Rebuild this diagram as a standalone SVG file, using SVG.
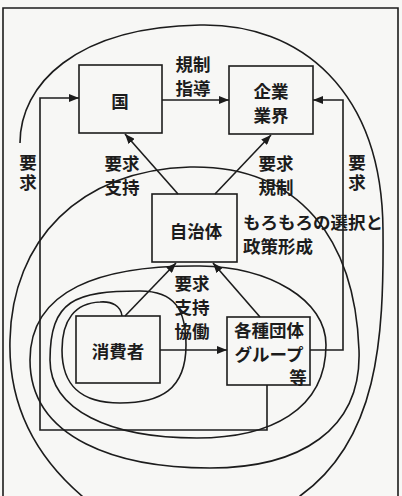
<svg xmlns="http://www.w3.org/2000/svg" width="402" height="496" viewBox="0 0 402 496">
<style>
.ln{fill:none;stroke:#1c1c1c;stroke-width:1.6}
.bx{fill:none;stroke:#1c1c1c;stroke-width:1.6}
.t{font-family:"Noto Sans CJK JP","Noto Sans CJK SC",sans-serif;font-size:17.5px;font-weight:700;fill:#1c1c1c;dominant-baseline:central}
.c{text-anchor:middle}
.v{writing-mode:vertical-rl;text-anchor:middle;letter-spacing:2.5px}
</style>
<defs>
<marker id="ah" markerUnits="userSpaceOnUse" markerWidth="11" markerHeight="8" refX="10" refY="4" orient="auto">
<path d="M0,0 L10,4 L0,8 z" fill="#1c1c1c"/>
</marker>
</defs>
<rect x="0" y="0" width="402" height="496" fill="#f7f7f5"/>
<path class="ln" d="M3,496 V8 H398 V496"/>
<g id="spiral">
<path class="ln" d="M20,143 C20,85 75,27 200,25 C300,23 382,90 383,230 C384,340 378,440 300,496 C260,530 110,530 82,496 C40,460 8,410 10,340 C12,240 80,170 190,167 C300,165 355,240 359,350 C362,430 300,468 210,468 C120,468 30,440 30,360 C30,290 100,265 200,266 C270,267 326,300 326,345 C326,410 270,438 197,438 C110,438 50,410 50,360 C50,300 75,291 140,291 C175,291 186,310 186,345 C186,390 160,403 120,403 C80,403 62,385 62,350 C62,320 75,303 100,302 C112,301 121,306 122,316"/>
</g>
<g id="connectors">
<path class="ln" d="M162,100 H229" marker-end="url(#ah)"/>
<path class="ln" d="M178,194 L125,134" marker-end="url(#ah)"/>
<path class="ln" d="M215,194 L271,135" marker-end="url(#ah)"/>
<path class="ln" d="M125,316 L176,263" marker-end="url(#ah)"/>
<path class="ln" d="M260,317 L213,263" marker-end="url(#ah)"/>
<path class="ln" d="M160,350 H227" marker-end="url(#ah)"/>
<path class="ln" d="M267,385 V430 H40 V98 H79" marker-end="url(#ah)"/>
<path class="ln" d="M310,350 H343 V100 H313" marker-end="url(#ah)"/>
</g>
<g id="labels">
<text class="t c" x="193" y="63">規制<tspan x="193" dy="24">指導</tspan></text>
<text class="t c" x="122" y="162">要求<tspan x="122" dy="24">支持</tspan></text>
<text class="t c" x="276" y="162">要求<tspan x="276" dy="24">規制</tspan></text>
<text class="t v" x="28" y="174">要求</text>
<text class="t v" x="357" y="174">要求</text>
<text class="t c" x="192" y="282">要求<tspan x="192" dy="24">支持</tspan><tspan x="192" dy="24">協働</tspan></text>
<text class="t" x="243" y="221">もろもろの選択と<tspan x="243" dy="24">政策形成</tspan></text>
</g>
<g id="kuni">
<rect class="bx" x="79" y="65" width="83" height="68"/>
<text class="t c" x="120" y="100">国</text>
</g>
<g id="kigyo">
<rect class="bx" x="229" y="66" width="84" height="68"/>
<text class="t c" x="271" y="90">企業<tspan x="271" dy="24">業界</tspan></text>
</g>
<g id="jichitai">
<rect class="bx" x="152" y="194" width="85" height="68"/>
<text class="t c" x="196" y="230">自治体</text>
</g>
<g id="shohisha">
<rect class="bx" x="76" y="316" width="84" height="67"/>
<text class="t c" x="118" y="350">消費者</text>
</g>
<g id="dantai">
<rect class="bx" x="227" y="317" width="83" height="68"/>
<text class="t c" x="269" y="329">各種団体<tspan x="269" dy="24">グループ</tspan><tspan x="298" dy="22.5">等</tspan></text>
</g>
</svg>
